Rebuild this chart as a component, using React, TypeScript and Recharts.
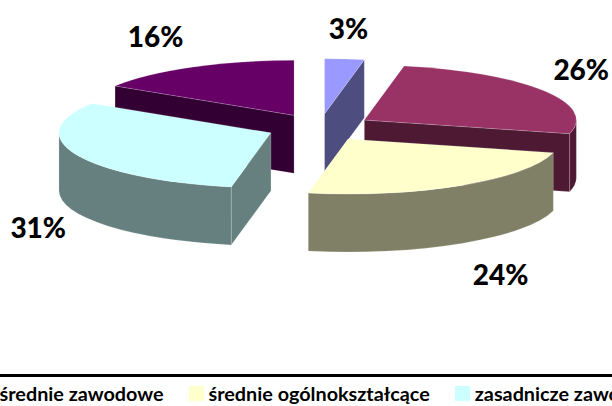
import { PieChart, Pie, Legend } from 'recharts';

// draw order starts at the back slice, so walls overlap the right way round
const categories = ['podstawowe', 'wyższe', 'średnie zawodowe', 'średnie ogólnokształcące', 'zasadnicze zawodowe'];
const shares = [16, 3, 26, 24, 31];
const topColors = ['#660066', '#9999FF', '#993366', '#FFFFCC', '#CCFFFF'];
const sideColors = ['#330033', '#4D4D80', '#4D1933', '#808066', '#668080'];
const legendOrder = ['wyższe', 'średnie zawodowe', 'średnie ogólnokształcące', 'zasadnicze zawodowe', 'podstawowe'];

const labelNudges = [
  [-21, -24],
  [1, -23],
  [11, -17],
  [22, 82],
  [-9, 69],
];

const CX = 319.6;
const CY = 127.4;
const RX = 212;
const TILT = 55 / 212;
const DEPTH = 58;
const EXPLODE = 0.25;
const EDGE = 'rgba(255,255,255,0.35)';

const tableData = categories.map((name, i) => ({
  name,
  value: shares[i],
  fill: topColors[i],
  side: sideColors[i],
}));

const backShare = shares[0];
const startAngle = 90 + (backShare / 100) * 360;

const rad = (d: number) => (d * Math.PI) / 180;
const onRim = (ox: number, oy: number, rx: number, ry: number, t: number): [number, number] => [
  ox + rx * Math.sin(rad(t)),
  oy - ry * Math.cos(rad(t)),
];

const SliceShape = (props: any) => {
  const { cx, cy, outerRadius, startAngle: sa, endAngle: ea, fill, payload } = props;
  const rx = outerRadius;
  const ry = rx * TILT;
  // clockwise angle from 12 o'clock
  let t0 = 90 - sa;
  let t1 = 90 - ea;
  while (t0 < 0) {
    t0 += 360;
    t1 += 360;
  }
  const mid = (t0 + t1) / 2;
  const [ox, oy] = onRim(cx, cy, rx * EXPLODE, ry * EXPLODE, mid);
  const [ax, ay] = onRim(ox, oy, rx, ry, t0);
  const [bx, by] = onRim(ox, oy, rx, ry, t1);
  const side = payload?.side ?? props.side;
  const top = `M${ox},${oy} L${ax},${ay} A${rx},${ry} 0 0 1 ${bx},${by} Z`;

  const wallFrom = Math.max(t0, 90);
  const wallTo = Math.min(t1, 270);
  let wall = null;
  if (wallTo > wallFrom) {
    const [wx0, wy0] = onRim(ox, oy, rx, ry, wallFrom);
    const [wx1, wy1] = onRim(ox, oy, rx, ry, wallTo);
    wall = `M${wx0},${wy0} A${rx},${ry} 0 0 1 ${wx1},${wy1} L${wx1},${wy1 + DEPTH} A${rx},${ry} 0 0 0 ${wx0},${wy0 + DEPTH} Z`;
  }
  const startVisible = Math.sin(rad(t0)) < -1e-6;
  const endVisible = Math.sin(rad(t1)) > 1e-6;
  const face = (px: number, py: number) =>
    `M${ox},${oy} L${px},${py} L${px},${py + DEPTH} L${ox},${oy + DEPTH} Z`;

  return (
    <g>
      {startVisible && <path d={face(ax, ay)} fill={side} stroke={EDGE} strokeWidth={0.5} />}
      {endVisible && <path d={face(bx, by)} fill={side} stroke={EDGE} strokeWidth={0.5} />}
      {wall && <path d={wall} fill={side} stroke={EDGE} strokeWidth={0.5} />}
      <path d={top} fill={fill} stroke={EDGE} strokeWidth={0.5} />
    </g>
  );
};

const renderLabel = (props: any) => {
  const { cx, cy, outerRadius, midAngle, value, index } = props;
  const [x, y] = onRim(cx, cy, outerRadius * 1.4, outerRadius * TILT * 1.4, 90 - midAngle);
  const [nx, ny] = labelNudges[index];
  return (
    <text
      x={x + nx}
      y={y + ny}
      textAnchor="middle"
      dominantBaseline="central"
      fontFamily="Lato, sans-serif"
      fontWeight={900}
      fontSize={28}
      fill="#000"
    >
      {value}%
    </text>
  );
};

const renderLegend = () => (
  <div style={{ display: 'flex', whiteSpace: 'nowrap', position: 'absolute', left: -129, top: 4 }}>
    {legendOrder.map((name) => {
      const i = categories.indexOf(name);
      return (
        <div key={name} style={{ display: 'flex', alignItems: 'center', marginRight: 25 }}>
          <span style={{ width: 15, height: 15, background: topColors[i], marginRight: 5, flex: 'none' }} />
          <span style={{ fontFamily: 'Lato, sans-serif', fontWeight: 700, fontSize: 19.8, color: '#000' }}>{name}</span>
        </div>
      );
    })}
  </div>
);

const App = () => {
  return (
    <div style={{ position: 'absolute', left: 0, top: 0, width: 612, height: 406, overflow: 'hidden', background: '#fff' }}>
      <PieChart width={612} height={406} margin={{ top: 0, right: 0, bottom: 0, left: 0 }}>
        <Pie
          data={tableData}
          dataKey="value"
          nameKey="name"
          cx={CX}
          cy={CY}
          outerRadius={RX}
          startAngle={startAngle}
          endAngle={startAngle - 360}
          stroke="none"
          shape={SliceShape}
          label={renderLabel}
          labelLine={false}
          isAnimationActive={false}
        />
        <Legend
          content={renderLegend}
          wrapperStyle={{ position: 'absolute', left: 0, top: 374, width: 612, height: 32, borderTop: '3px solid #000', overflow: 'hidden', boxSizing: 'border-box' }}
        />
      </PieChart>
    </div>
  );
};

export default App;
